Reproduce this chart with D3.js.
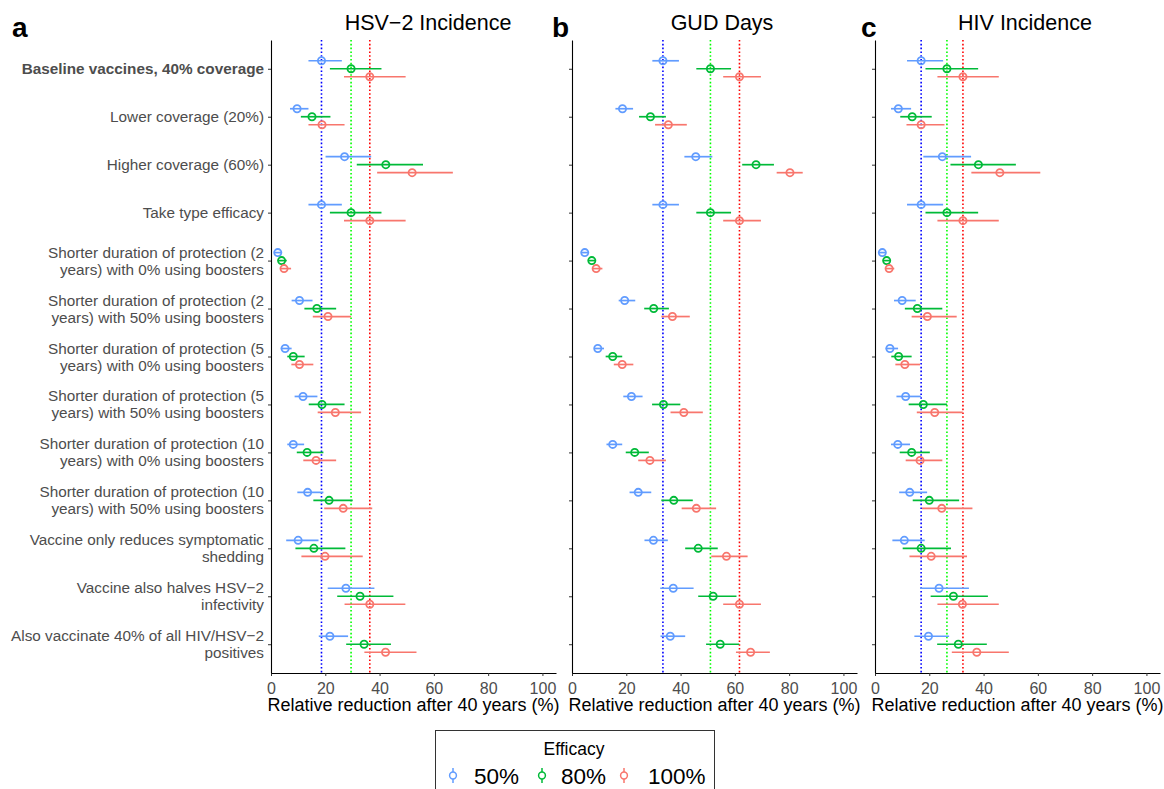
<!DOCTYPE html>
<html>
<head>
<meta charset="utf-8">
<script src="https://cdn.jsdelivr.net/npm/d3@7"></script>
<style>
  body { margin: 0; background: #fff; }
  text { font-family: "Liberation Sans", Arial, sans-serif; }
</style>
</head>
<body>
<div id="chart"></div>
<script>
// scenario labels (top to bottom)
var scenarios = [
  "Baseline vaccines, 40% coverage",
  "Lower coverage (20%)",
  "Higher coverage (60%)",
  "Take type efficacy",
  "Shorter duration of protection (2\nyears) with 0% using boosters",
  "Shorter duration of protection (2\nyears) with 50% using boosters",
  "Shorter duration of protection (5\nyears) with 0% using boosters",
  "Shorter duration of protection (5\nyears) with 50% using boosters",
  "Shorter duration of protection (10\nyears) with 0% using boosters",
  "Shorter duration of protection (10\nyears) with 50% using boosters",
  "Vaccine only reduces symptomatic\nshedding",
  "Vaccine also halves HSV\u22122\ninfectivity",
  "Also vaccinate 40% of all HIV/HSV\u22122\npositives"
];
var efficacies = ["50%", "80%", "100%"];
var colours = ["#619CFF", "#00BA38", "#F8766D"];
var refColours = ["#0000FF", "#00FF00", "#FF0000"];
var panelTitles = ["HSV\u22122 Incidence", "GUD Days", "HIV Incidence"];
var panelLetters = ["a", "b", "c"];
var xTicks = [0, 20, 40, 60, 80, 100];

// [estimate, lower, upper] per scenario
var hsv50 = [[18.6,13.8,26.1],[9.6,7.0,13.8],[27.1,20.1,36.9],[18.6,13.8,26.1],[2.5,1.2,3.7],[10.5,7.6,15.3],[5.2,3.6,7.6],[11.8,8.7,17.1],[8.2,6.0,12.2],[13.5,9.7,19.3],[10.0,5.6,17.5],[27.6,20.9,38.1],[21.7,17.6,28.4]];
var hsv80 = [[29.5,21.7,40.7],[15.1,11.0,21.9],[42.3,31.6,56.0],[29.5,21.7,40.7],[3.9,2.7,5.8],[16.9,12.3,24.0],[8.2,6.0,12.4],[18.8,13.9,27.1],[13.3,9.5,19.3],[21.4,15.6,30.1],[15.8,9.0,27.4],[32.8,24.4,45.1],[34.3,27.7,44.2]];
var hsv100 = [[36.4,26.9,49.6],[18.8,13.8,27.1],[52.0,39.1,67.0],[36.4,26.9,49.6],[4.8,3.6,7.4],[21.0,15.4,29.5],[10.5,7.5,15.6],[23.7,17.2,33.2],[16.6,11.9,24.0],[26.6,19.6,37.3],[19.9,11.2,33.8],[36.4,27.1,49.5],[42.2,34.4,53.6]];

var gud50 = [[33.5,29.6,39.4],[18.6,16.0,22.5],[45.6,41.4,51.7],[33.5,29.6,39.4],[4.7,3.6,6.0],[19.4,17.2,23.3],[9.5,8.1,11.8],[21.9,18.9,26.0],[15.0,12.7,18.5],[24.4,21.2,29.2],[30.0,26.7,35.3],[37.3,32.5,44.8],[36.2,32.6,41.7]];
var gud80 = [[51.0,45.8,58.6],[28.9,24.7,34.6],[67.8,62.7,74.4],[51.0,45.8,58.6],[7.3,6.0,8.7],[30.1,26.6,35.7],[15.0,12.4,18.5],[33.7,29.5,39.9],[23.1,19.8,28.3],[37.5,32.9,44.5],[46.5,41.7,53.7],[52.0,46.5,60.6],[54.6,49.4,61.6]];
var gud100 = [[61.7,55.7,69.6],[35.5,30.6,42.3],[80.3,75.4,85.0],[61.7,55.7,69.6],[8.9,7.7,11.2],[37.0,32.9,43.4],[18.5,15.4,22.6],[41.2,36.3,48.2],[28.7,24.4,34.6],[45.8,40.4,53.1],[56.9,51.3,64.7],[61.7,55.7,69.6],[65.8,60.4,72.9]];

var hiv50 = [[17.0,11.8,25.1],[8.6,5.9,13.3],[24.8,17.8,35.4],[17.0,11.8,25.1],[2.7,1.5,3.7],[10.0,7.0,15.0],[5.5,3.9,8.5],[11.3,7.9,17.0],[8.4,5.9,12.9],[12.8,8.9,19.2],[10.8,6.4,18.3],[23.6,16.6,34.6],[19.7,14.5,27.3]];
var hiv80 = [[26.5,18.6,38.0],[13.7,9.3,20.9],[38.1,27.8,51.9],[26.5,18.6,38.0],[4.3,3.1,5.6],[15.6,11.0,24.8],[8.7,6.0,13.5],[17.8,12.4,26.5],[13.5,9.1,20.2],[20.0,13.9,31.0],[17.0,10.2,28.0],[28.9,20.5,41.6],[30.7,22.9,41.2]];
var hiv100 = [[32.4,23.0,45.6],[17.0,11.6,25.6],[46.0,35.5,60.9],[32.4,23.0,45.6],[5.2,3.9,7.1],[19.3,13.5,30.1],[11.0,7.5,16.6],[22.0,15.4,32.3],[16.6,11.3,24.8],[24.6,17.3,35.9],[20.7,12.7,33.9],[32.2,23.0,45.6],[37.5,28.3,49.3]];

var panels = [[hsv50, hsv80, hsv100], [gud50, gud80, gud100], [hiv50, hiv80, hiv100]];

var W = 1164, H = 789;
var panelLeft = [271, 572, 875];
var panelWidth = 285;
var plotTop = 40, plotBottom = 673;
var grey = "#4d4d4d";

var svg = d3.select("#chart").append("svg")
    .attr("width", W)
    .attr("height", H);

var y = d3.scalePoint().domain(d3.range(scenarios.length)).range([plotTop, plotBottom]).padding(0.6);
var dodge = d3.scalePoint().domain(efficacies).range([-8, 8]);

panels.forEach(function(series, p) {
    var x = d3.scaleLinear().domain([0, 105]).range([panelLeft[p], panelLeft[p] + panelWidth]);
    var g = svg.append("g");

    // baseline reference lines
    series.forEach(function(s, k) {
        g.append("line")
            .attr("x1", x(s[0][0])).attr("x2", x(s[0][0]))
            .attr("y1", plotTop).attr("y2", plotBottom)
            .attr("stroke", refColours[k])
            .attr("stroke-width", 1.6)
            .attr("stroke-dasharray", "1.6,2.2");
    });

    // error bars and points
    series.forEach(function(s, k) {
        var sg = g.append("g");
        sg.selectAll("line.err").data(s).enter().append("line")
            .attr("x1", function(d) { return x(d[1]); })
            .attr("x2", function(d) { return x(d[2]); })
            .attr("y1", function(d, i) { return y(i) + dodge(efficacies[k]); })
            .attr("y2", function(d, i) { return y(i) + dodge(efficacies[k]); })
            .attr("stroke", colours[k])
            .attr("stroke-width", 1.7);
        sg.selectAll("circle").data(s).enter().append("circle")
            .attr("cx", function(d) { return x(d[0]); })
            .attr("cy", function(d, i) { return y(i) + dodge(efficacies[k]); })
            .attr("r", 3.6)
            .attr("fill", "none")
            .attr("stroke", colours[k])
            .attr("stroke-width", 1.8);
    });

    // x axis
    var xa = g.append("g")
        .attr("transform", "translate(0," + plotBottom + ")")
        .call(d3.axisBottom(x).tickValues(xTicks).tickSize(3).tickSizeOuter(0));
    xa.select(".domain").attr("stroke", "#000").attr("stroke-width", 1.1);
    xa.selectAll(".tick line").attr("stroke", "#333");
    xa.selectAll(".tick text").attr("fill", grey).attr("font-size", 16).attr("dy", "0.95em")
        .attr("font-family", "Liberation Sans, Arial, sans-serif");

    // y axis
    var ya = g.append("g")
        .attr("transform", "translate(" + panelLeft[p] + ",0)")
        .call(d3.axisLeft(y).tickSize(3).tickSizeOuter(0).tickFormat(""));
    ya.select(".domain").attr("stroke", "#000").attr("stroke-width", 1.1);
    ya.selectAll(".tick line").attr("stroke", "#333");

    if (p === 0) {
        ya.selectAll(".tick text").remove();
        scenarios.forEach(function(label, i) {
            var lines = label.split("\n");
            var t = g.append("text")
                .attr("text-anchor", "end")
                .attr("fill", grey)
                .attr("font-size", 15.3)
                .attr("font-weight", i === 0 ? "bold" : "normal");
            lines.forEach(function(line, j) {
                t.append("tspan")
                    .attr("x", panelLeft[0] - 7)
                    .attr("y", y(i) + 5.5 + (j - (lines.length - 1) / 2) * 17)
                    .text(line);
            });
        });
    }

    // axis title
    g.append("text")
        .attr("x", panelLeft[p] + panelWidth / 2)
        .attr("y", 711)
        .attr("text-anchor", "middle")
        .attr("font-size", 18)
        .attr("fill", "#000")
        .text("Relative reduction after 40 years (%)");

    // panel title
    g.append("text")
        .attr("x", [428, 722, 1025][p])
        .attr("y", 30)
        .attr("text-anchor", "middle")
        .attr("font-size", 21.5)
        .attr("fill", "#000")
        .text(panelTitles[p]);

    // panel letter
    g.append("text")
        .attr("x", [12, 552, 861][p])
        .attr("y", 37)
        .attr("font-size", 28)
        .attr("font-weight", "bold")
        .attr("fill", "#000")
        .text(panelLetters[p]);
});

// legend
var leg = svg.append("g");
leg.append("rect")
    .attr("x", 435.5).attr("y", 730.5)
    .attr("width", 279).attr("height", 70)
    .attr("fill", "#fff").attr("stroke", "#333").attr("stroke-width", 1);
leg.append("text")
    .attr("x", 574).attr("y", 755)
    .attr("text-anchor", "middle")
    .attr("font-size", 17.5)
    .text("Efficacy");
var legX = [453, 542, 624];
efficacies.forEach(function(e, k) {
    var cx = legX[k];
    leg.append("line")
        .attr("x1", cx).attr("x2", cx)
        .attr("y1", 768).attr("y2", 783)
        .attr("stroke", colours[k]).attr("stroke-width", 1.5);
    leg.append("circle")
        .attr("cx", cx).attr("cy", 775.5).attr("r", 3.4)
        .attr("fill", "#fff").attr("stroke", colours[k]).attr("stroke-width", 1.5);
    leg.append("text")
        .attr("x", cx + [21, 19, 24][k]).attr("y", 784)
        .attr("font-size", 22.5)
        .text(e);
});
</script>
</body>
</html>
